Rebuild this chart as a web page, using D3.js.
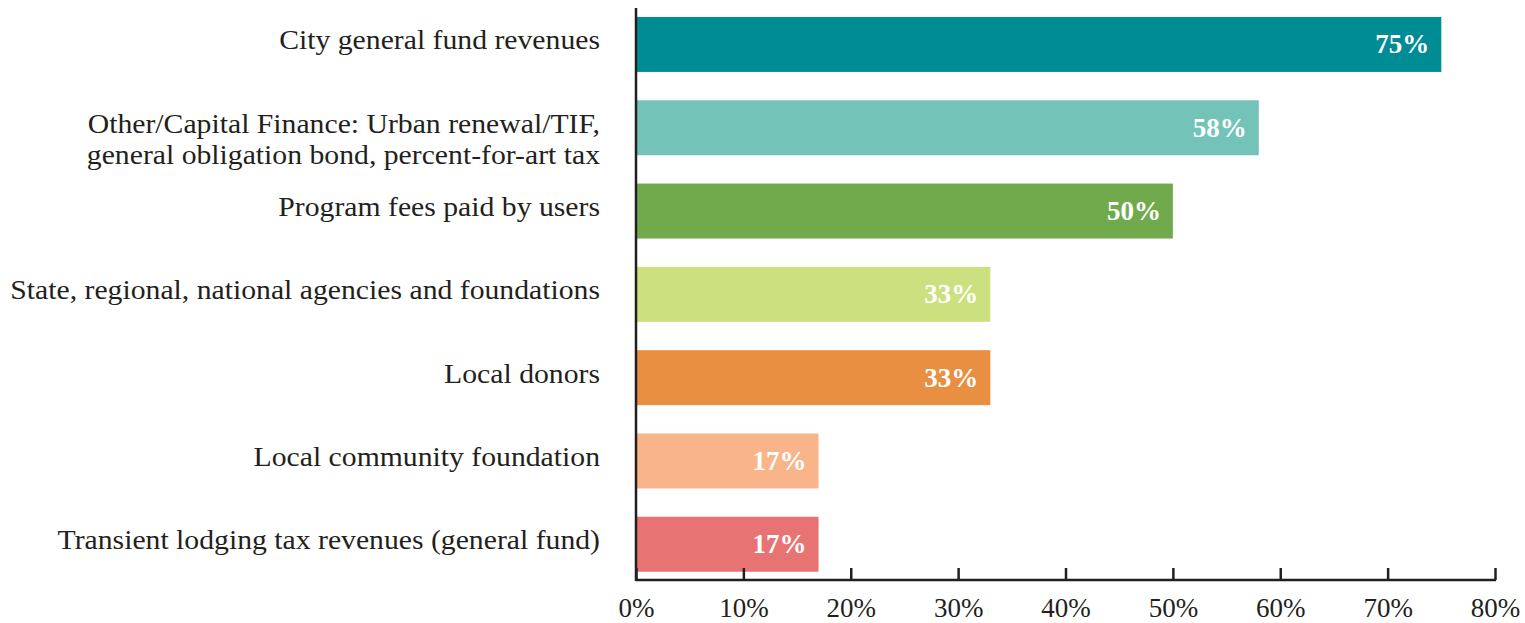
<!DOCTYPE html>
<html>
<head>
<meta charset="utf-8">
<script src="https://cdn.jsdelivr.net/npm/d3@7"></script>
<style>
  body { margin: 0; background: #fff; }
  svg text { font-family: "Liberation Serif", "Times New Roman", serif; }
</style>
</head>
<body>
<div id="chart"></div>
<script>
(function () {
    "use strict";

    // data
    var categories = [
        ["City general fund revenues"],
        ["Other/Capital Finance: Urban renewal/TIF,", "general obligation bond, percent-for-art tax"],
        ["Program fees paid by users"],
        ["State, regional, national agencies and foundations"],
        ["Local donors"],
        ["Local community foundation"],
        ["Transient lodging tax revenues (general fund)"]
    ];
    var values = [75, 58, 50, 33, 33, 17, 17];
    var colors = ["#008c95", "#74c3b9", "#71aa4c", "#cbe07e", "#e88f42", "#f9b48a", "#e87373"];
    var ticks = [0, 10, 20, 30, 40, 50, 60, 70, 80];

    var width = 1525, height = 623;
    var x0 = 636, x1 = 1495, yAxis = 580, labelRight = 600;

    var svg = d3.select("#chart").append("svg")
        .attr("width", width)
        .attr("height", height);

    var x = d3.scaleLinear().domain([0, 80]).range([x0, x1]);
    var y = d3.scaleBand()
        .domain(d3.range(categories.length))
        .range([2.8, 585.9])
        .paddingInner(0.34)
        .paddingOuter(0.17);

    // bars
    svg.selectAll("rect.bar").data(values).enter().append("rect")
        .attr("class", "bar")
        .attr("x", x(0))
        .attr("y", function (d, i) { return y(i); })
        .attr("width", function (d) { return x(d) - x(0); })
        .attr("height", y.bandwidth())
        .attr("fill", function (d, i) { return colors[i]; });

    // value labels
    svg.selectAll("text.val").data(values).enter().append("text")
        .attr("class", "val")
        .attr("x", function (d) { return x(d) - 12; })
        .attr("y", function (d, i) { return y(i) + y.bandwidth() / 2 + 9; })
        .attr("text-anchor", "end")
        .attr("fill", "#fff")
        .attr("font-weight", "bold")
        .attr("font-size", 27)
        .text(function (d) { return d + "%"; });

    // category labels (the original face is wider than Liberation Serif, so stretch a bit)
    var catG = svg.append("g");
    var cat = catG.selectAll("text.cat").data(categories).enter().append("text")
        .attr("class", "cat")
        .attr("text-anchor", "end")
        .attr("fill", "#231f20")
        .attr("font-size", 27)
        .attr("y", function (d, i) { return y(i) + y.bandwidth() / 2 + 5; });
    cat.selectAll("tspan").data(function (d) { return d; }).enter().append("tspan")
        .attr("x", labelRight)
        .attr("dy", function (d, j) { return j === 0 ? 0 : 31; })
        .text(function (d) { return d; });

    var widest = d3.max(cat.nodes(), function (n) { return n.getBBox().width; });
    var k = 590 / widest;
    catG.attr("transform", "translate(" + labelRight + ",0) scale(" + k + ",1) translate(" + (-labelRight) + ",0)");

    // x axis
    var axis = svg.append("g")
        .attr("transform", "translate(0," + yAxis + ")")
        .call(d3.axisBottom(x).tickValues(ticks).tickSize(-12)
            .tickFormat(function (d) { return d + "%"; }));
    axis.select(".domain").remove();
    axis.selectAll(".tick line").attr("stroke", "#231f20").attr("stroke-width", 2.5);
    axis.selectAll(".tick text")
        .attr("fill", "#231f20")
        .attr("font-size", 27)
        .attr("font-family", "Liberation Serif, serif")
        .attr("dy", 0)
        .attr("y", 37);

    svg.append("line")
        .attr("x1", x0).attr("x2", x1 + 1)
        .attr("y1", yAxis).attr("y2", yAxis)
        .attr("stroke", "#231f20").attr("stroke-width", 2.5);
    svg.append("line")
        .attr("x1", x0).attr("x2", x0)
        .attr("y1", 8).attr("y2", yAxis + 1)
        .attr("stroke", "#231f20").attr("stroke-width", 2.5);
}());
</script>
</body>
</html>
